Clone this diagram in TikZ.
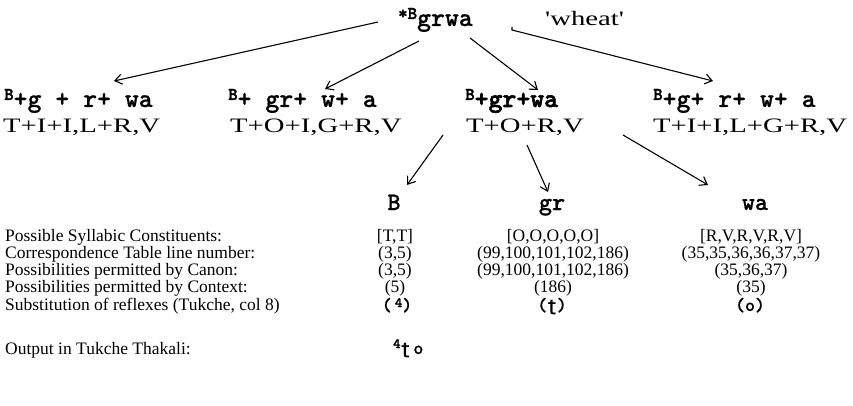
\documentclass[tikz,border=0pt]{standalone}
\usepackage{fontspec}
\setmainfont{Liberation Serif}
\newfontfamily\wserif[FakeStretch=1.4]{Liberation Serif}
\newfontfamily\cour[FakeBold=0.6]{lmmonolt10-bold.otf}
\newfontfamily\courh[FakeBold=2]{lmmonolt10-bold.otf}
\newfontfamily\ipa{DejaVu Sans Mono}
\usetikzlibrary{arrows.meta}
\newcommand\rsup[1]{\raisebox{7pt}{\courh\fontsize{18}{18}\selectfont #1}}
\newcommand\rfour[1]{\raisebox{#1}{\courh\fontsize{14}{14}\selectfont 4}}
\newcommand\retT{{\ipa\bfseries\fontsize{16}{16}\selectfont ʈ}}
\begin{document}
\begin{tikzpicture}[x=1pt,y=-1pt,
  every node/.style={inner sep=0pt},
  monot/.style={font=\cour\fontsize{26.5}{27}\selectfont, anchor=base west},
  monoh/.style={font=\courh\fontsize{26.5}{27}\selectfont, anchor=base west},
  formula/.style={font=\wserif\fontsize{20.5}{22}\selectfont, anchor=base west},
  colhead/.style={font=\cour\fontsize{25}{25}\selectfont, anchor=base},
  lab/.style={font=\fontsize{17.5}{18}\selectfont, anchor=base west},
  val/.style={font=\fontsize{17.5}{18}\selectfont, anchor=base},
  refl/.style={font=\cour\fontsize{19}{19}\selectfont, anchor=base},
  arr/.style={line width=1.1pt, -{Straight Barb[length=7pt,width=10pt]}}]
\useasboundingbox (0,0) rectangle (853,406);

% top
\node[monot] (root) at (398,26) {\rsup{*B}grwa};
\node[formula] (wheat) at (545,26) {'wheat'};

% row 1
\node[monot] (r1a) at (4,107) {\rsup{B}+g + r+ wa};
\node[monot] (r1b) at (228,107) {\rsup{B}+ gr+ w+ a};
\node[monoh] (r1c) at (465,107) {\rsup{B}+gr+wa};
\node[monot] (r1d) at (653,107) {\rsup{B}+g+ r+ w+ a};

% row 2
\node[formula] (r2a) at (3,133) {T+I+I,L+R,V};
\node[formula] (r2b) at (230,133) {T+O+I,G+R,V};
\node[formula] (r2c) at (466,133) {T+O+R,V};
\node[formula] (r2d) at (653,133) {T+I+I,L+G+R,V};

% constituents
\node[colhead] (cB) at (394,210) {B};
\node[colhead] (cgr) at (552,210) {gr};
\node[colhead] (cwa) at (755,210) {wa};

% table
\node[lab] (l1) at (5,241) {Possible Syllabic Constituents:};
\node[lab] (l2) at (5,258) {Correspondence Table line number:};
\node[lab] (l3) at (5,275) {Possibilities permitted by Canon:};
\node[lab] (l4) at (5,292) {Possibilities permitted by Context:};
\node[lab] (l5) at (5,310) {Substitution of reflexes (Tukche, col 8)};
\node[lab] (l6) at (5,354) {Output in Tukche Thakali:};

\node[val] (b1) at (395,241) {[T,T]};
\node[val] (b2) at (395,258) {(3,5)};
\node[val] (b3) at (395,275) {(3,5)};
\node[val] (b4) at (395,292) {(5)};
\node[refl] (b5) at (397,311) {(\,\rfour{4pt})};

\node[val] (g1) at (553,241) {[O,O,O,O,O]};
\node[val] (g2) at (553,258) {(99,100,101,102,186)};
\node[val] (g3) at (553,275) {(99,100,101,102,186)};
\node[val] (g4) at (553,292) {(186)};
\node[refl] (g5) at (552,311) {(\retT)};

\node[val] (w1) at (751,241) {[R,V,R,V,R,V]};
\node[val] (w2) at (751,258) {(35,35,36,36,37,37)};
\node[val] (w3) at (751,275) {(35,36,37)};
\node[val] (w4) at (751,292) {(35)};
\node[refl] (w5) at (750,311) {(o)};

\node[refl, anchor=base west] (out) at (393,354) {\rfour{6pt}\retT\,o};

% arrows
\draw[arr] ([xshift=-20pt,yshift=4pt]root.base west) -- ([xshift=110pt,yshift=26pt]r1a.base west);
\draw[arr] ([xshift=21pt,yshift=-15pt]root.base west) -- ([xshift=97pt,yshift=18pt]r1b.base west);
\draw[arr] ([xshift=72pt,yshift=-12pt]root.base west) -- ([xshift=73pt,yshift=17pt]r1c.base west);
\draw[arr] ([xshift=114pt,yshift=-1pt]root.base west) -- ++(0,3) -- ([xshift=60pt,yshift=26pt]r1d.base west);
\draw[arr] ([xshift=-23pt,yshift=-2pt]r2c.base west) -- ([xshift=13pt,yshift=25pt]cB.base);
\draw[arr] ([xshift=61pt,yshift=-12pt]r2c.base west) -- ([xshift=-4pt,yshift=18pt]cgr.base);
\draw[arr] ([xshift=157pt,yshift=-2pt]r2c.base west) -- ([xshift=-47pt,yshift=25pt]cwa.base);
\end{tikzpicture}
\end{document}
